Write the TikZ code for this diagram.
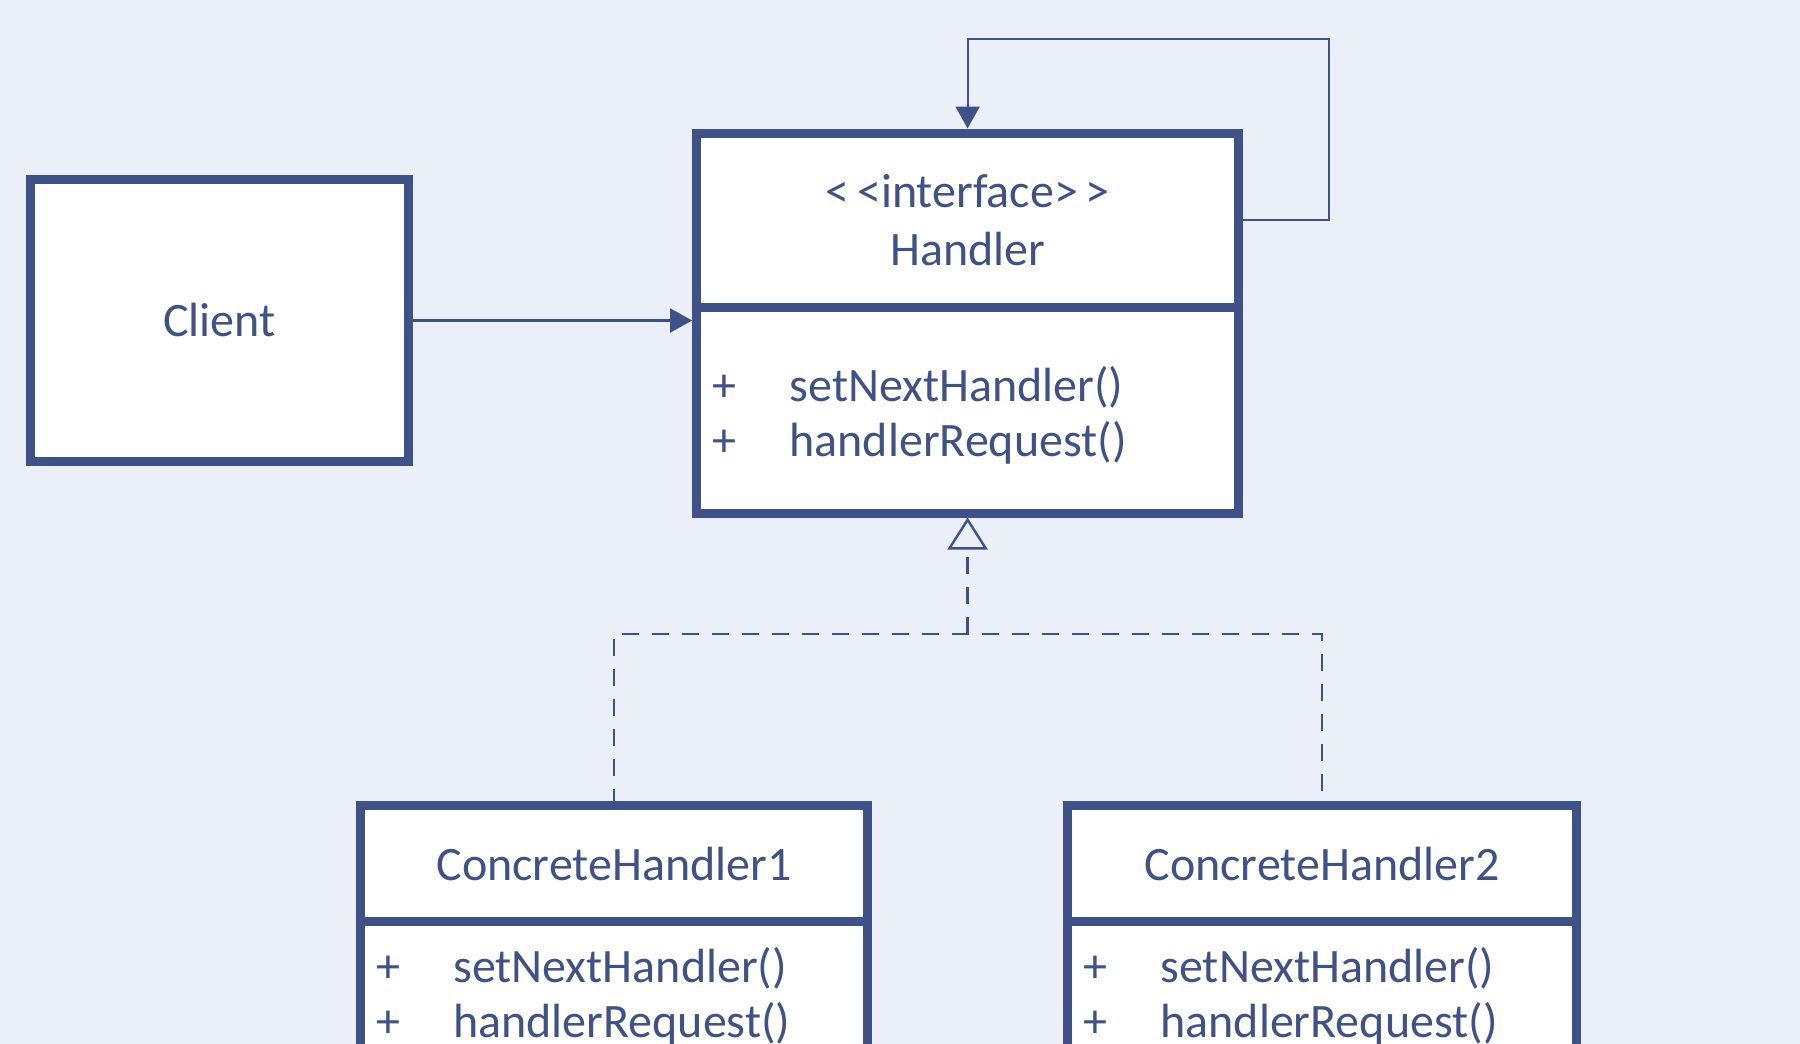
\documentclass[tikz,border=0pt]{standalone}
\usepackage{fontspec}
\setmainfont{Carlito}
\usepackage{tikz}
\usetikzlibrary{arrows.meta,positioning}
\definecolor{umlblue}{HTML}{3F5189}
\definecolor{paper}{HTML}{EAEFF8}
\newcommand{\op}[1]{\makebox[77pt][l]{+}#1}

\begin{document}
\begin{tikzpicture}[x=1pt, y=-1pt, >={Triangle[length=22pt,width=24pt]}, shorten >=4.5pt, line width=2.2pt, umlblue]
  \tikzstyle{box}=[draw=umlblue, fill=white, line width=9pt, outer sep=0pt, inner sep=0pt, text=umlblue, align=center, font=\fontsize{48}{58}\selectfont]
  \tikzstyle{ops}=[box, inner xsep=16pt, align=left, font=\fontsize{48}{55}\selectfont]
  \tikzstyle{realize}=[dash pattern=on 17pt off 13pt, line width=2.4pt]

  \useasboundingbox (0,0) rectangle (1800,1044);
  \fill[paper] (0,0) rectangle (1800,1044);
  \clip (0,0) rectangle (1800,1044);

  \node[box, minimum width=378pt, minimum height=282pt] (client) at (219.5,320.5) {Client};
  \node[box, minimum width=542pt, minimum height=174pt] (hTitle) at (967.6,220) {<\kern8pt<interface>\kern8pt>\\Handler};
  \node[ops, minimum width=542pt, text width=510pt, minimum height=206pt] (hOps) [below=0pt of hTitle]
    {\rule{0pt}{46pt}\op{setNextHandler()}\\\op{handlerRequest()}};
  \node[box, minimum width=507.5pt, minimum height=116pt] (ch1Title) at (614,863.8) {ConcreteHandler1};
  \node[ops, minimum width=507.5pt, text width=475.5pt, minimum height=150pt] (ch1Ops) [below=0pt of ch1Title]
    {\op{setNextHandler()}\\\op{handlerRequest()}};
  \node[box, minimum width=509pt, minimum height=116pt] (ch2Title) at (1322,863.8) {ConcreteHandler2};
  \node[ops, minimum width=509pt, text width=477pt, minimum height=150pt] (ch2Ops) [below=0pt of ch2Title]
    {\op{setNextHandler()}\\\op{handlerRequest()}};

  \coordinate (loopTop) at (1329,39);
  \coordinate (fork) at (967.6,634);

  \draw[->] (client.east) -- (client.east -| hOps.west);
  \draw[->] (hTitle.east) -| (loopTop) -| (hTitle.north);
  \draw[realize, -{Triangle[open,length=32pt,width=40pt,line width=2.4pt]}] (fork) -- (hOps.south);
  \draw[realize] (ch1Title.north) |- (fork) -| (ch2Title.north);
\end{tikzpicture}
\end{document}
